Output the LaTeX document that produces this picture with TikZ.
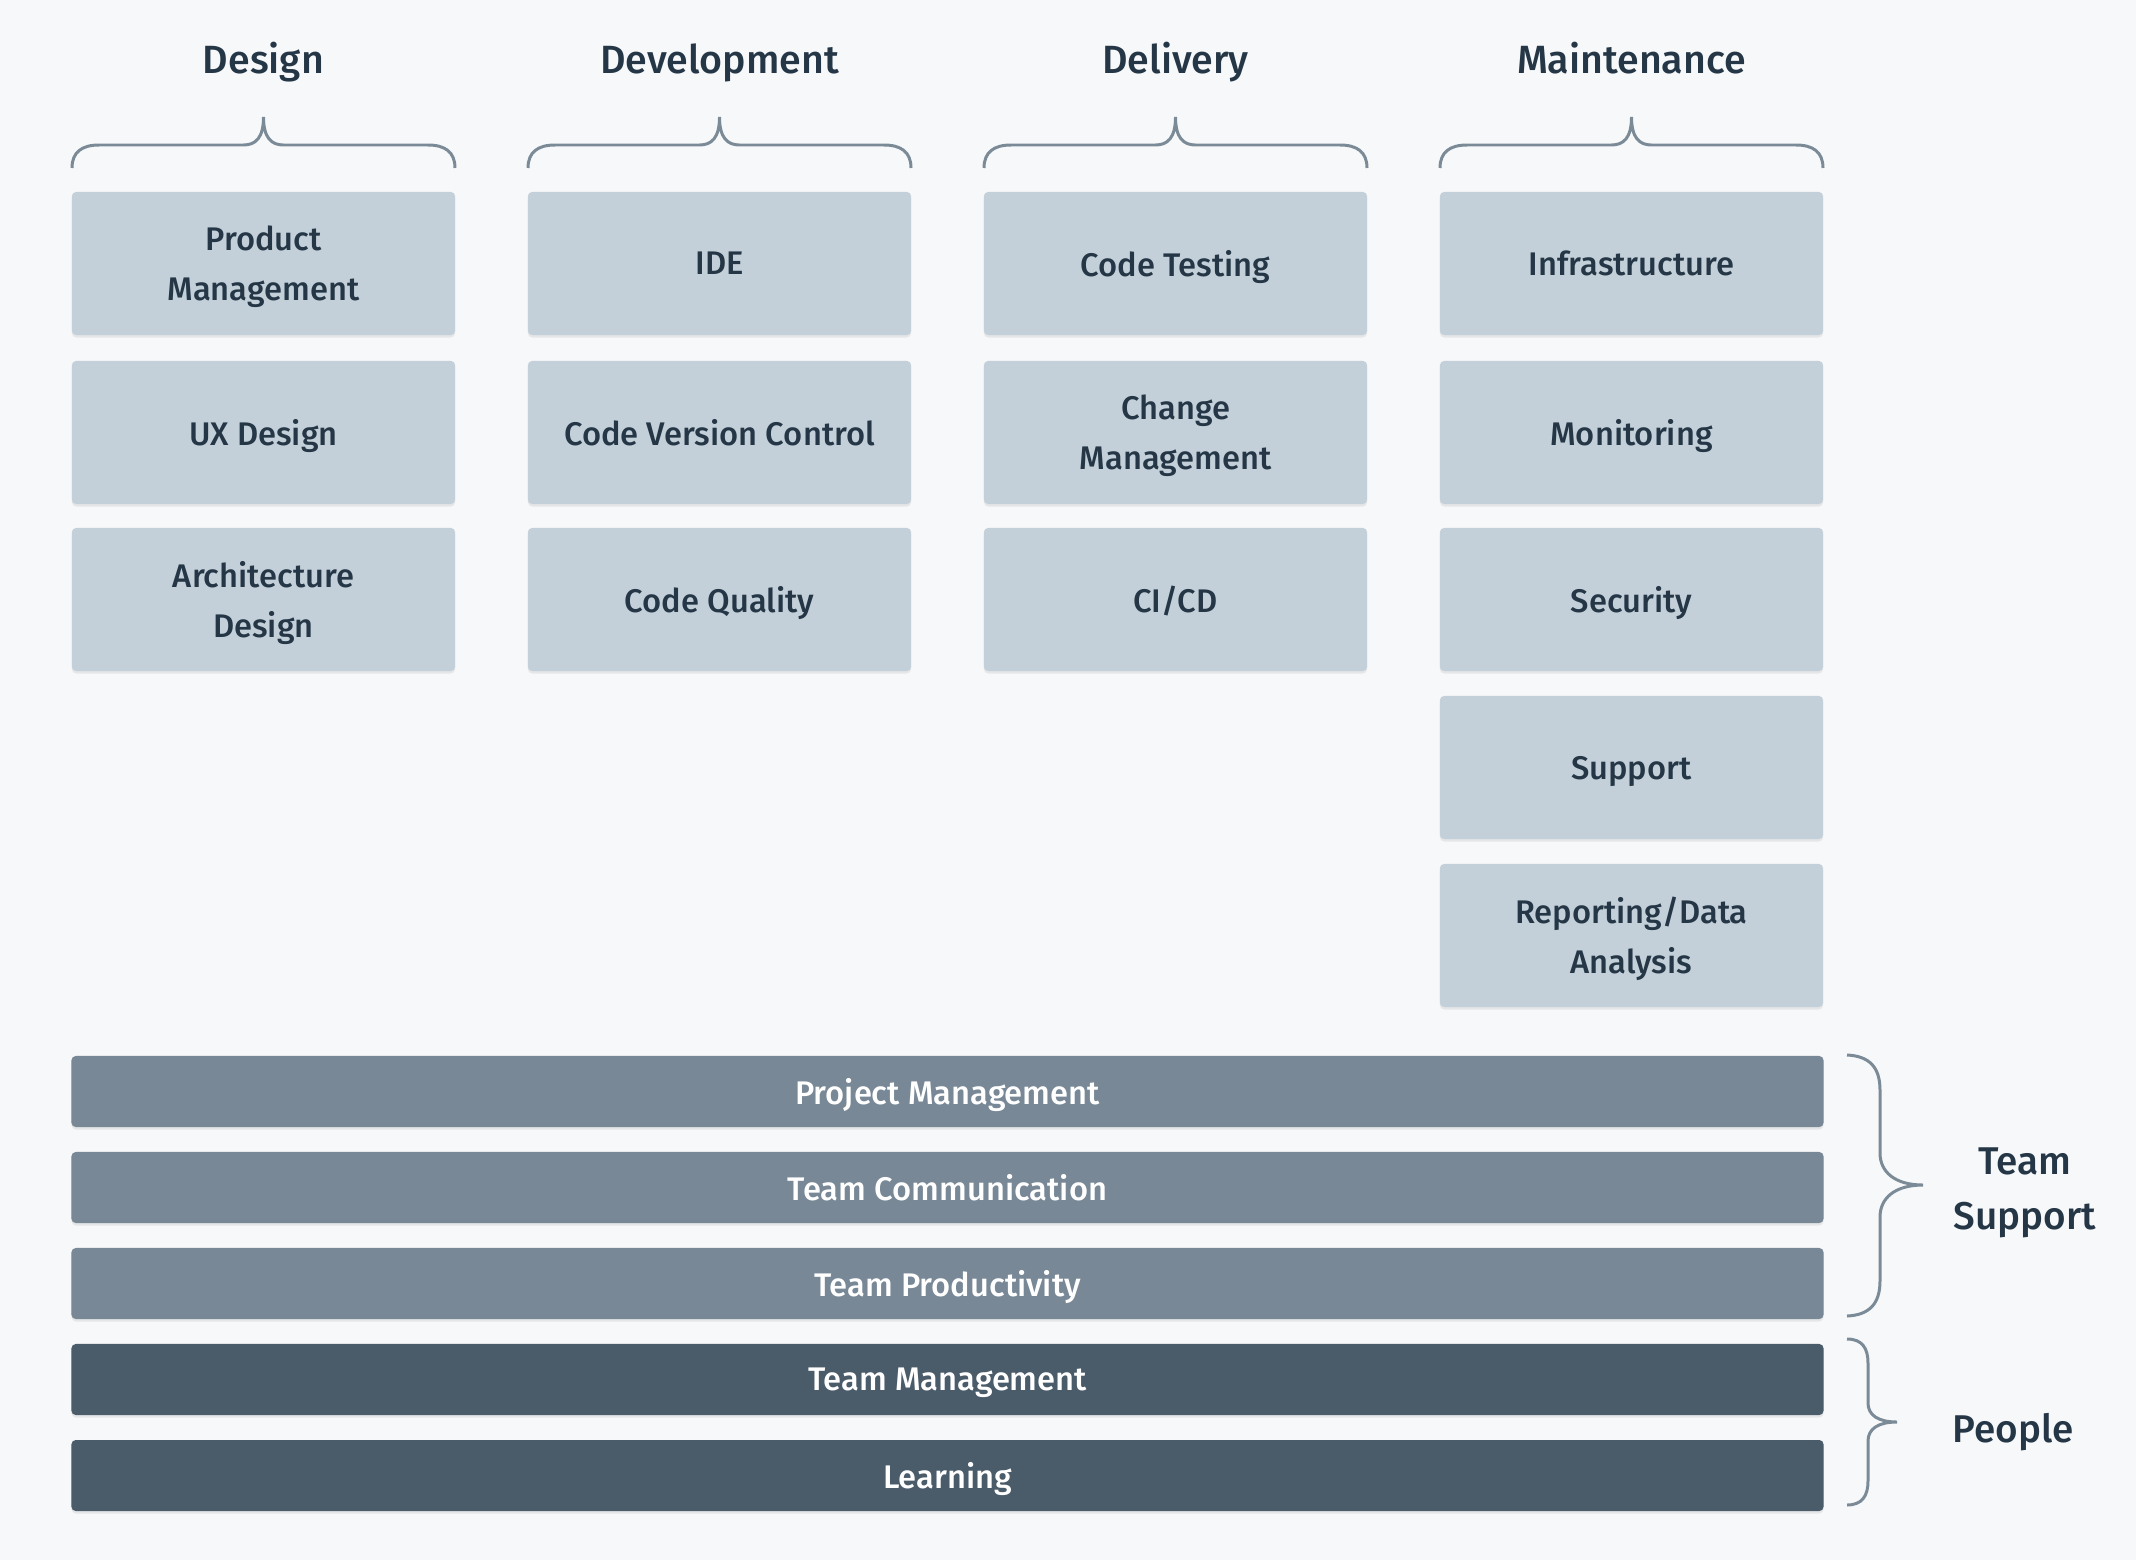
\documentclass[tikz,border=0pt]{standalone}
\usepackage{fontspec}
\setmainfont{Fira Sans Medium}
\usetikzlibrary{shadows}
\definecolor{bgcol}{HTML}{F7F8FA}
\definecolor{tilecol}{HTML}{C4D0D9}
\definecolor{midcol}{HTML}{788896}
\definecolor{darkcol}{HTML}{4A5B6A}
\definecolor{inkcol}{HTML}{253746}
\definecolor{bracecol}{HTML}{7B8A97}
\tikzset{
  tile/.style={fill=tilecol, rounded corners=1.2pt, minimum width=3.83cm, minimum height=1.43cm,
    text=inkcol, align=center, text depth=0pt, font=\fontsize{9.3}{14.2}\selectfont,
    drop shadow={shadow xshift=0pt, shadow yshift=-0.7pt, opacity=0.07, fill=black}},
  bar/.style={rounded corners=1.2pt, minimum width=17.51cm, minimum height=0.71cm,
    text=white, text depth=0pt, font=\fontsize{9.3}{14.2}\selectfont,
    drop shadow={shadow xshift=0pt, shadow yshift=-0.7pt, opacity=0.07, fill=black}},
  head/.style={text=inkcol, anchor=base, font=\fontsize{11.2}{15}\selectfont},
  sidelabel/.style={text=inkcol, align=center, font=\fontsize{11}{15.6}\selectfont},
  bracepen/.style={draw=bracecol, line width=0.85pt}
}
% #1 left end, #2 tip, #3 right end
\newcommand{\topbrace}[3]{%
  \draw[bracepen] (#1,168) .. controls (#1,152) and (#1+10,145) .. (#1+27,145) -- (#2-20,145)
    .. controls (#2-8,145) and (#2,138) .. (#2,117)
    .. controls (#2,138) and (#2+8,145) .. (#2+20,145) -- (#3-27,145)
    .. controls (#3-10,145) and (#3,152) .. (#3,168);}

\begin{document}
\begin{tikzpicture}[x=0.01cm, y=-0.01cm]
  \fill[bgcol] (0,0) rectangle (2136,1560);
  \useasboundingbox (0,0) rectangle (2136,1560);

  \node[head] (design) at (263.5,73) {Design};
  \node[head] (develop) at (719.5,73) {Development};
  \node[head] (deliver) at (1175.5,73) {Delivery};
  \node[head] (maint) at (1631.5,73) {Maintenance};

  \topbrace{72}{263.5}{455}
  \topbrace{528}{719.5}{911}
  \topbrace{984}{1175.5}{1367}
  \topbrace{1440}{1631.5}{1823}

  \node[tile] (prodm) at (263.5,263.5) {Product\\Management};
  \node[tile] (ux) at (263.5,432.5) {UX Design};
  \node[tile] (arch) at (263.5,599.5) {Architecture\\Design};

  \node[tile] (ide) at (719.5,263.5) {IDE};
  \node[tile] (vcs) at (719.5,432.5) {Code Version Control};
  \node[tile] (quality) at (719.5,599.5) {Code Quality};

  \node[tile] (testing) at (1175.5,263.5) {Code Testing};
  \node[tile] (change) at (1175.5,432.5) {Change\\Management};
  \node[tile] (cicd) at (1175.5,599.5) {CI/CD};

  \node[tile] (infra) at (1631.5,263.5) {Infrastructure};
  \node[tile] (monitor) at (1631.5,432.5) {Monitoring};
  \node[tile] (security) at (1631.5,599.5) {Security};
  \node[tile] (support) at (1631.5,767.5) {Support};
  \node[tile] (report) at (1631.5,935.5) {Reporting/Data\\Analysis};

  \node[bar, fill=midcol] (projm) at (947.5,1091.5) {Project Management};
  \node[bar, fill=midcol] (comm) at (947.5,1187.5) {Team Communication};
  \node[bar, fill=midcol] (productivity) at (947.5,1283.5) {Team Productivity};
  \node[bar, fill=darkcol] (teamm) at (947.5,1379.5) {Team Management};
  \node[bar, fill=darkcol] (learn) at (947.5,1475.5) {Learning};

  \draw[bracepen] (1847,1055) .. controls (1870,1056) and (1880,1068) .. (1880,1090) -- (1880,1153)
    .. controls (1880,1172) and (1895,1185) .. (1923,1185)
    .. controls (1895,1185) and (1880,1198) .. (1880,1217) -- (1880,1281)
    .. controls (1880,1303) and (1870,1315) .. (1847,1316);
  \draw[bracepen] (1847,1339) .. controls (1862,1339) and (1868,1348) .. (1868,1363) -- (1868,1403)
    .. controls (1868,1415) and (1878,1422) .. (1897,1422)
    .. controls (1878,1422) and (1868,1429) .. (1868,1441) -- (1868,1481)
    .. controls (1868,1496) and (1862,1505) .. (1847,1505);

  \node[sidelabel] (teamsup) at (2025,1193) {Team\\Support};
  \node[head, font=\fontsize{11}{15}\selectfont] (people) at (2013,1442) {People};
\end{tikzpicture}
\end{document}
